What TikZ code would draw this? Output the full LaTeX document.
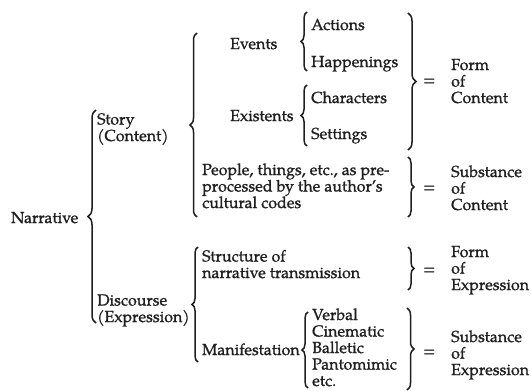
\documentclass[tikz,border=0pt]{standalone}
\usepackage{fontspec}
\setmainfont{TeX Gyre Pagella}[FakeBold=1.1]
\usetikzlibrary{decorations.pathreplacing}
\begin{document}
\begin{tikzpicture}[x=1pt,y=-1pt,
  lbl/.style={anchor=base west, inner sep=0pt, align=left, text=black!88,
    font=\fontsize{16}{16.5}\selectfont},
  brc/.style={decorate, decoration={brace, amplitude=#1}, line width=1.5pt, draw=black!88},
  brc/.default=6pt]
\useasboundingbox (0,0) rectangle (531,391);
% left column (multi-line nodes: base = baseline of last line)
\node[lbl] (narr) at (11,223) {Narrative};
\node[lbl] (story) at (97,141) {Story\\(Content)};
\node[lbl] (disc) at (97,322) {Discourse\\(Expression)};
% story items
\node[lbl] (events) at (230,49) {Events};
\node[lbl] (exist) at (230,121) {Existents};
\node[lbl] (actions) at (311,30) {Actions};
\node[lbl] (happ) at (311,67) {Happenings};
\node[lbl] (chars) at (311,103) {Characters};
\node[lbl] (sett) at (311,139) {Settings};
\node[lbl] (people) at (202,208) {People, things, etc., as pre-\\processed by the author’s\\cultural codes};
% discourse items
\node[lbl] (struct) at (202,278) {Structure of\\narrative transmission};
\node[lbl] (manif) at (202,355) {Manifestation};
\node[lbl] (media) at (312,386) {Verbal\\Cinematic\\Balletic\\Pantomimic\\etc.};
% equals
\node[lbl] (eq1) at (423,85) {=};
\node[lbl] (eq2) at (423,192) {=};
\node[lbl] (eq3) at (423,274) {=};
\node[lbl] (eq4) at (423,356) {=};
% results
\node[lbl] (fc) at (451,103) {Form\\of\\Content};
\node[lbl] (sc) at (451,210) {Substance\\of\\Content};
\node[lbl] (fe) at (451,290) {Form\\of\\Expression};
\node[lbl] (se) at (451,375) {Substance\\of\\Expression};
% brace end points
\coordinate (nbB) at (96,323);  \coordinate (nbT) at (96,110);
\coordinate (sbB) at (197,217); \coordinate (sbT) at (197,33);
\coordinate (dbB) at (198,362); \coordinate (dbT) at (198,247);
\coordinate (ebB) at (307,71);  \coordinate (ebT) at (307,12);
\coordinate (xbB) at (307,146); \coordinate (xbT) at (307,85);
\coordinate (mbB) at (308,388); \coordinate (mbT) at (308,312);
\coordinate (fcT) at (408,13);  \coordinate (fcB) at (408,150);
\coordinate (scT) at (408,157); \coordinate (scB) at (408,217);
\coordinate (feT) at (408,247); \coordinate (feB) at (408,290);
\coordinate (seT) at (407,308); \coordinate (seB) at (407,390);
% left braces
\draw[brc=8pt] (nbB) -- (nbT);
\draw[brc=7pt] (sbB) -- (sbT);
\draw[brc=6pt] (dbB) -- (dbT);
\draw[brc=6pt] (ebB) -- (ebT);
\draw[brc=6pt] (xbB) -- (xbT);
\draw[brc=6pt] (mbB) -- (mbT);
% right braces
\draw[brc=8pt] (fcT) -- (fcB);
\draw[brc=6pt] (scT) -- (scB);
\draw[brc=6pt] (feT) -- (feB);
\draw[brc=7pt] (seT) -- (seB);
\end{tikzpicture}
\end{document}
